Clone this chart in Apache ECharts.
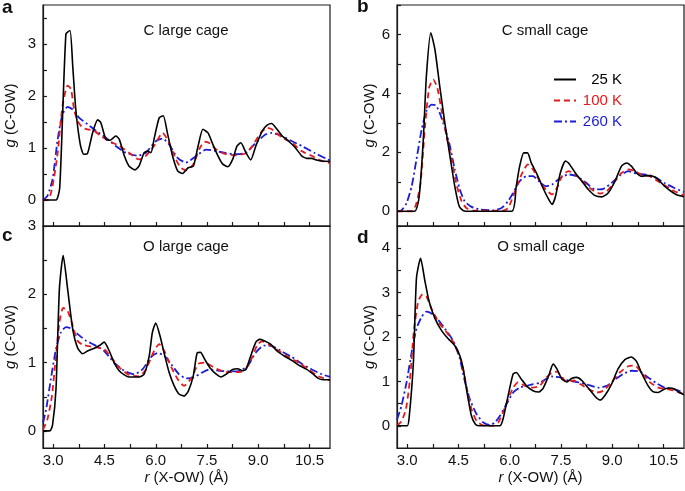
<!DOCTYPE html>
<html><head><meta charset="utf-8">
<script src="https://cdn.jsdelivr.net/npm/echarts@6/dist/echarts.min.js"></script>
<style>html,body{margin:0;padding:0;background:#fff}#c{width:685px;height:491px}</style>
</head><body><div id="c"></div>
<script>
// ---- data (r in Å, g values) ----
const seriesNames = ['25 K', '100 K', '260 K'];
const panelTitles = ['C large cage', 'C small cage', 'O large cage', 'O small cage'];
const panelLetters = ['a', 'b', 'c', 'd'];
const xTickLabels = [3.0, 4.5, 6.0, 7.5, 9.0, 10.5];
const xTicks = [3.0, 3.75, 4.5, 5.25, 6.0, 6.75, 7.5, 8.25, 9.0, 9.75, 10.5];
const yLabelsA = [0, 1, 2, 3], yTicksA = [0, 0.5, 1, 1.5, 2, 2.5, 3, 3.5];
const yLabelsB = [0, 2, 4, 6], yTicksB = [0, 1, 2, 3, 4, 5, 6, 7];
const yLabelsC = [0, 1, 2, 3], yTicksC = [0, 0.5, 1, 1.5, 2, 2.5, 3];
const yLabelsD = [0, 1, 2, 3, 4], yTicksD = [0, 0.5, 1, 1.5, 2, 2.5, 3, 3.5, 4, 4.5];

const aBlack = [[2.7,0],[3.08,0],[3.19,0.24],[3.37,3.19],[3.49,3.26],[3.57,2.58],[3.66,1.74],[3.79,1.07],[3.89,0.88],[4.0,0.89],[4.15,1.29],[4.3,1.54],[4.39,1.49],[4.54,1.17],[4.66,1.15],[4.83,1.23],[4.93,1.17],[5.08,0.85],[5.22,0.65],[5.39,0.58],[5.51,0.65],[5.66,0.91],[5.76,0.94],[5.86,0.91],[5.95,1.17],[6.1,1.58],[6.22,1.62],[6.34,1.29],[6.49,0.85],[6.64,0.56],[6.78,0.51],[6.95,0.62],[7.1,0.65],[7.24,1.04],[7.38,1.36],[7.53,1.29],[7.67,1.07],[7.82,0.85],[7.96,0.69],[8.11,0.64],[8.25,0.78],[8.38,1.04],[8.49,1.10],[8.64,0.91],[8.78,0.77],[8.93,1.04],[9.12,1.33],[9.26,1.44],[9.39,1.47],[9.55,1.36],[9.7,1.23],[9.89,1.13],[10.08,1.01],[10.27,0.85],[10.42,0.80],[10.56,0.80],[10.71,0.77],[10.86,0.75],[11.1,0.74]];
const aRed = [[2.7,0],[2.85,0],[2.98,0.27],[3.13,0.91],[3.27,1.81],[3.42,2.2],[3.52,2.13],[3.61,1.74],[3.71,1.52],[3.86,1.39],[4.0,1.36],[4.2,1.33],[4.39,1.23],[4.64,1.13],[4.93,1.04],[5.22,0.91],[5.51,0.78],[5.71,0.85],[5.95,1.04],[6.2,1.29],[6.39,1.10],[6.59,0.78],[6.73,0.62],[6.9,0.57],[7.1,0.69],[7.29,1.0],[7.43,1.12],[7.58,1.09],[7.77,0.97],[8.06,0.88],[8.35,0.86],[8.64,0.90],[8.83,1.04],[9.07,1.29],[9.26,1.39],[9.4,1.36],[9.7,1.2],[9.99,1.1],[10.27,0.94],[10.56,0.85],[10.86,0.75],[11.1,0.71]];
const aBlue = [[2.7,0],[2.83,0.08],[2.98,0.4],[3.13,1.17],[3.27,1.65],[3.42,1.79],[3.57,1.74],[3.76,1.58],[4.0,1.46],[4.25,1.33],[4.54,1.2],[4.83,1.04],[5.12,0.91],[5.47,0.85],[5.71,0.91],[6.0,1.13],[6.2,1.18],[6.39,1.07],[6.64,0.81],[6.88,0.72],[7.19,0.85],[7.48,0.97],[7.77,0.94],[8.06,0.9],[8.35,0.88],[8.64,0.91],[8.93,1.1],[9.21,1.26],[9.4,1.29],[9.7,1.23],[9.99,1.13],[10.27,1.04],[10.66,0.9],[11.1,0.76]];

const bBlack = [[2.7,0],[3.22,0],[3.35,0.51],[3.47,2.43],[3.56,4.59],[3.69,6.06],[3.81,5.49],[3.95,4.25],[4.1,3.0],[4.25,1.87],[4.39,0.85],[4.52,0.17],[4.64,0.02],[4.72,0],[6.06,0],[6.19,0.85],[6.29,1.53],[6.41,1.98],[6.52,1.98],[6.63,1.64],[6.78,1.3],[6.95,0.85],[7.14,0.4],[7.24,0.23],[7.34,0.51],[7.48,1.3],[7.63,1.7],[7.72,1.64],[7.92,1.3],[8.11,1.02],[8.3,0.74],[8.5,0.53],[8.69,0.49],[8.88,0.62],[9.08,1.02],[9.27,1.53],[9.42,1.64],[9.56,1.53],[9.71,1.3],[9.85,1.19],[10.05,1.21],[10.19,1.19],[10.34,1.08],[10.53,0.85],[10.72,0.68],[10.87,0.57],[11.1,0.49]];
const bRed = [[2.7,0],[3.15,0],[3.27,0.28],[3.39,0.96],[3.52,2.89],[3.64,4.19],[3.76,4.47],[3.88,4.19],[4.0,3.45],[4.15,2.55],[4.3,1.76],[4.44,0.91],[4.59,0.34],[4.73,0.11],[4.93,0.02],[5.8,0.02],[5.95,0.11],[6.1,0.51],[6.24,0.96],[6.39,1.36],[6.53,1.59],[6.68,1.42],[6.85,1.08],[7.05,0.74],[7.24,0.57],[7.38,0.79],[7.53,1.19],[7.72,1.36],[7.92,1.25],[8.16,0.99],[8.4,0.74],[8.64,0.6],[8.84,0.68],[9.08,1.02],[9.27,1.3],[9.47,1.42],[9.66,1.36],[9.85,1.25],[10.09,1.19],[10.34,1.02],[10.58,0.85],[10.82,0.68],[11.1,0.54]];
const bBlue = [[2.7,0],[2.83,0.03],[2.98,0.28],[3.13,0.85],[3.27,1.76],[3.42,2.77],[3.56,3.4],[3.71,3.62],[3.84,3.59],[3.95,3.34],[4.1,2.83],[4.25,2.21],[4.39,1.42],[4.54,0.74],[4.68,0.34],[4.88,0.15],[5.12,0.06],[5.51,0.03],[5.76,0.11],[5.95,0.34],[6.1,0.62],[6.29,1.02],[6.49,1.19],[6.68,1.19],[6.85,1.02],[7.05,0.85],[7.24,0.91],[7.48,1.13],[7.72,1.25],[7.96,1.19],[8.21,0.99],[8.5,0.74],[8.74,0.76],[8.98,0.96],[9.22,1.21],[9.47,1.36],[9.71,1.28],[9.95,1.25],[10.24,1.17],[10.53,0.96],[10.82,0.79],[11.1,0.65]];

const cBlack = [[2.7,0],[2.9,0],[2.98,0.09],[3.08,0.61],[3.18,2.08],[3.29,2.57],[3.42,2.08],[3.57,1.49],[3.71,1.22],[3.86,1.13],[4.0,1.17],[4.2,1.21],[4.35,1.25],[4.49,1.3],[4.64,1.17],[4.78,1.0],[4.93,0.88],[5.08,0.82],[5.22,0.79],[5.51,0.79],[5.66,0.83],[5.81,1.1],[5.9,1.44],[6.0,1.58],[6.12,1.40],[6.25,1.13],[6.39,0.86],[6.54,0.66],[6.68,0.54],[6.83,0.51],[6.95,0.58],[7.1,0.81],[7.21,1.14],[7.31,1.15],[7.43,1.05],[7.58,0.93],[7.77,0.83],[7.91,0.79],[8.06,0.83],[8.25,0.9],[8.4,0.91],[8.54,0.88],[8.64,0.9],[8.78,1.1],[8.93,1.3],[9.04,1.34],[9.17,1.32],[9.36,1.27],[9.55,1.17],[9.75,1.1],[9.99,1.03],[10.23,0.95],[10.42,0.9],[10.61,0.83],[10.76,0.77],[10.9,0.75],[11.1,0.75]];
const cRed = [[2.7,0.02],[2.83,0.17],[2.96,0.51],[3.08,1.1],[3.18,1.59],[3.29,1.80],[3.42,1.76],[3.57,1.54],[3.71,1.32],[3.86,1.26],[4.05,1.24],[4.3,1.22],[4.49,1.2],[4.69,1.08],[4.93,0.93],[5.22,0.82],[5.51,0.80],[5.71,0.9],[5.95,1.17],[6.1,1.27],[6.25,1.17],[6.44,0.95],[6.64,0.76],[6.83,0.66],[7.05,0.78],[7.24,0.98],[7.43,1.0],[7.63,0.95],[7.87,0.89],[8.11,0.86],[8.35,0.86],[8.59,0.88],[8.78,1.03],[8.98,1.27],[9.12,1.31],[9.31,1.27],[9.6,1.17],[9.89,1.08],[10.18,1.0],[10.47,0.9],[10.76,0.8],[11.1,0.74]];
const cBlue = [[2.7,0.12],[2.79,0.31],[2.93,0.76],[3.08,1.2],[3.22,1.44],[3.37,1.52],[3.52,1.5],[3.71,1.42],[3.96,1.32],[4.2,1.26],[4.49,1.17],[4.78,1.0],[5.08,0.88],[5.37,0.83],[5.61,0.9],[5.86,1.08],[6.05,1.14],[6.25,1.1],[6.49,0.95],[6.68,0.83],[6.88,0.77],[7.1,0.78],[7.34,0.85],[7.58,0.9],[7.87,0.88],[8.16,0.87],[8.45,0.88],[8.69,0.95],[8.93,1.15],[9.17,1.25],[9.41,1.24],[9.7,1.16],[9.99,1.08],[10.28,0.98],[10.57,0.9],[10.86,0.83],[11.1,0.79]];

const dBlack = [[2.7,0],[3.0,0],[3.06,0.22],[3.18,1.43],[3.27,3.33],[3.39,3.77],[3.52,3.25],[3.64,2.8],[3.81,2.42],[4.0,2.15],[4.2,1.96],[4.39,1.81],[4.54,1.58],[4.64,1.28],[4.75,0.75],[4.88,0.22],[5.0,0.03],[5.12,0],[5.71,0],[5.8,0.14],[5.95,0.67],[6.1,1.17],[6.19,1.2],[6.34,1.05],[6.49,0.9],[6.68,0.79],[6.85,0.76],[6.98,0.85],[7.14,1.13],[7.27,1.39],[7.38,1.28],[7.53,1.05],[7.67,0.99],[7.82,1.07],[7.96,1.09],[8.11,1.02],[8.3,0.85],[8.5,0.66],[8.64,0.58],[8.79,0.69],[8.98,0.94],[9.17,1.28],[9.37,1.49],[9.56,1.55],[9.71,1.45],[9.85,1.2],[10.05,0.9],[10.19,0.77],[10.34,0.75],[10.53,0.83],[10.68,0.85],[10.82,0.83],[10.97,0.75],[11.1,0.7]];
const dRed = [[2.7,0],[2.83,0.1],[2.96,0.37],[3.08,1.05],[3.19,2.11],[3.32,2.8],[3.45,2.96],[3.56,2.91],[3.71,2.64],[3.91,2.34],[4.15,2.11],[4.39,1.83],[4.59,1.43],[4.73,0.9],[4.88,0.37],[5.03,0.11],[5.22,0.01],[5.51,0],[5.66,0.07],[5.8,0.3],[5.95,0.6],[6.1,0.86],[6.24,0.98],[6.44,0.9],[6.68,0.86],[6.88,0.9],[7.05,1.07],[7.24,1.2],[7.38,1.22],[7.53,1.09],[7.67,0.99],[7.87,1.02],[8.06,0.94],[8.3,0.83],[8.55,0.75],[8.74,0.79],[8.98,0.98],[9.22,1.2],[9.47,1.34],[9.66,1.36],[9.85,1.2],[10.09,0.99],[10.34,0.86],[10.58,0.83],[10.82,0.79],[11.1,0.71]];
const dBlue = [[2.7,0.14],[2.83,0.45],[2.98,0.98],[3.13,1.66],[3.27,2.19],[3.42,2.45],[3.56,2.57],[3.71,2.53],[3.91,2.38],[4.1,2.19],[4.34,1.92],[4.54,1.51],[4.68,1.02],[4.83,0.6],[5.03,0.26],[5.22,0.08],[5.41,0.02],[5.56,0.07],[5.71,0.22],[5.9,0.48],[6.1,0.75],[6.29,0.86],[6.49,0.9],[6.68,0.94],[6.88,0.97],[7.05,1.05],[7.24,1.11],[7.48,1.09],[7.72,1.02],[8.01,0.98],[8.3,0.92],[8.59,0.86],[8.84,0.9],[9.08,1.04],[9.32,1.17],[9.56,1.24],[9.81,1.22],[10.05,1.09],[10.29,0.96],[10.53,0.86],[10.77,0.83],[11.1,0.75]];

// ---- chart ----
const FONT = 'Liberation Sans, Arial, Helvetica, sans-serif';
const panels = [
  {grid:{left:43, top:5, width:287, height:221}, ymin:-0.5, ymax:3.75, yl:yLabelsA, yt:yTicksA, xlab:false, gap:25, data:[aBlack,aRed,aBlue]},
  {grid:{left:397, top:5, width:287, height:221}, ymin:-0.5, ymax:7, yl:yLabelsB, yt:yTicksB, xlab:false, gap:20, data:[bBlack,bRed,bBlue]},
  {grid:{left:43, top:226, width:287, height:222}, ymin:-0.25, ymax:3, yl:yLabelsC, yt:yTicksC, xlab:true, gap:25, data:[cBlack,cRed,cBlue]},
  {grid:{left:397, top:226, width:287, height:222}, ymin:-0.5, ymax:4.5, yl:yLabelsD, yt:yTicksD, xlab:true, gap:20, data:[dBlack,dRed,dBlue]}
];
const styles = [
  {color:'#000000', width:1.6, type:'solid'},
  {color:'#e41a1c', width:1.8, type:[6,4]},
  {color:'#1c1cd8', width:1.8, type:[8,3,2,3]}
];
const titlePos = [
  {x:186, y:23}, {x:545, y:23}, {x:186, y:239}, {x:541, y:239}
];
const letterPos = [
  {x:2, y:-2}, {x:357, y:-3}, {x:2, y:226}, {x:357, y:228}
];

const axisColor = '#1a1a1a';
const option = {
  backgroundColor: '#ffffff',
  animation: false,
  textStyle: {fontFamily: FONT},
  title: [],
  legend: {
    data: seriesNames.map((n, k) => ({name: n, textStyle: {color: styles[k].color}})),
    orient: 'vertical',
    left: 553, top: 72,
    itemWidth: 22, itemHeight: 14, itemGap: 6,
    padding: 0,
    itemStyle: {color: 'rgba(0,0,0,0)', borderWidth: 0, opacity: 0},
    formatter: n => '{r|' + n + '}',
    textStyle: {fontFamily: FONT, fontSize: 15, rich: {r: {width: 41, align: 'right', fontSize: 15, fontFamily: FONT}}},
    selectedMode: false
  },
  grid: [], xAxis: [], yAxis: [], series: []
};

panels.forEach((p, i) => {
  option.grid.push(Object.assign({show:true, borderColor:axisColor, borderWidth:1.2, containLabel:false}, p.grid));
  option.xAxis.push({
    type:'value', gridIndex:i, min:2.7, max:11.1,
    axisLine:{show:true, onZero:false, lineStyle:{color:axisColor, width:1.2}},
    axisTick:{show:true, inside:true, length:4, customValues:xTicks, lineStyle:{color:axisColor, width:1.2}},
    axisLabel:{show:p.xlab, customValues:xTickLabels, formatter:v => Number(v).toFixed(1), color:'#111', fontSize:15, fontFamily:FONT, margin:5},
    splitLine:{show:false},
    name: p.xlab ? '{i|r} (X-OW) (Å)' : '',
    nameLocation:'middle', nameGap:22,
    nameTextStyle:{color:'#111', fontSize:15, fontFamily:FONT, rich:{i:{fontStyle:'italic', fontSize:15, fontFamily:FONT, color:'#111'}}}
  });
  option.yAxis.push({
    type:'value', gridIndex:i, min:p.ymin, max:p.ymax,
    axisLine:{show:true, onZero:false, lineStyle:{color:axisColor, width:1.2}},
    axisTick:{show:true, inside:true, length:4, customValues:p.yt, lineStyle:{color:axisColor, width:1.2}},
    axisLabel:{show:true, customValues:p.yl, formatter:v => String(Math.round(v)), color:'#111', fontSize:15, fontFamily:FONT, margin:7},
    splitLine:{show:false},
    name:'{i|g} (C-OW)', nameLocation:'middle', nameGap:p.gap,
    nameTextStyle:{color:'#111', fontSize:15, fontFamily:FONT, rich:{i:{fontStyle:'italic', fontSize:15, fontFamily:FONT, color:'#111'}}}
  });
  p.data.forEach((d, k) => {
    option.series.push({
      type:'line', name:seriesNames[k], xAxisIndex:i, yAxisIndex:i,
      data:d, showSymbol:false, symbol:'none', smooth:0.2, clip:true,
      lineStyle:styles[k], itemStyle:{color:styles[k].color}, z: 10 - k
    });
  });
  option.title.push({text:panelTitles[i], left:titlePos[i].x, top:titlePos[i].y, textAlign:'center', padding:0,
    textStyle:{fontSize:15, fontWeight:'normal', color:'#111', fontFamily:FONT}});
  option.title.push({text:panelLetters[i], left:letterPos[i].x, top:letterPos[i].y, padding:0,
    textStyle:{fontSize:19, fontWeight:'bold', color:'#111', fontFamily:FONT}});
});

const chart = echarts.init(document.getElementById('c'), null, {renderer:'canvas'});
chart.setOption(option);
</script></body></html>
